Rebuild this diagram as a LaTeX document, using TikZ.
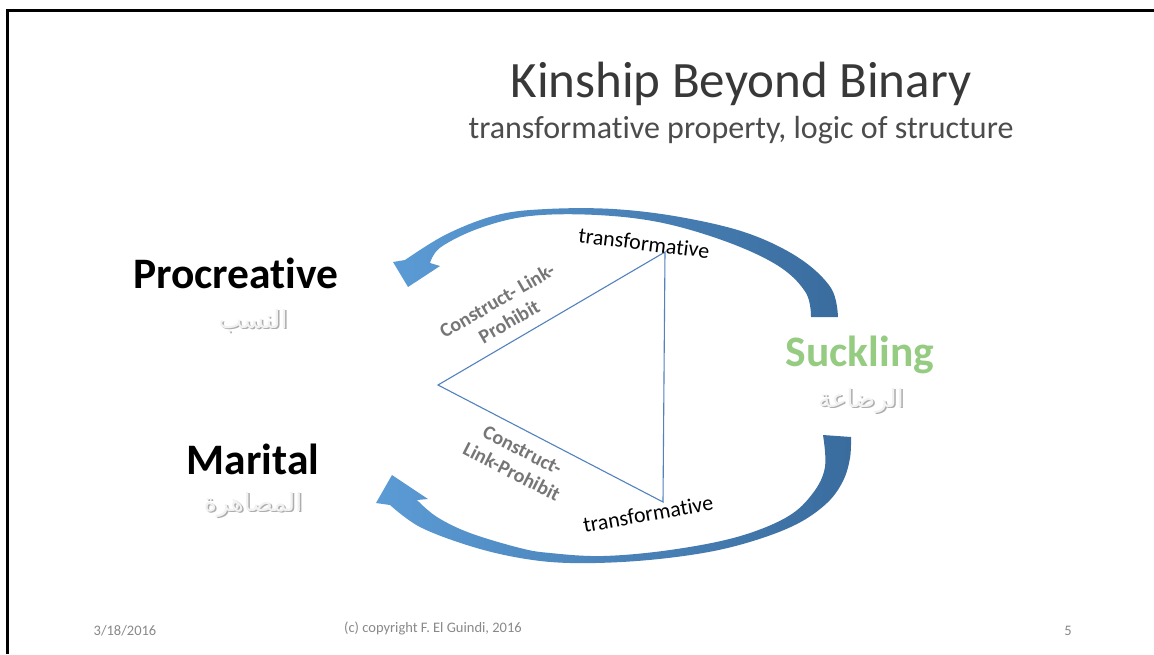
\documentclass[tikz,border=0pt]{standalone}
\usepackage{fontspec}
\setmainfont{Carlito}[Ligatures=NoCommon]
\newfontfamily\arabicfont[Script=Arabic]{DejaVu Sans}
\TeXXeTstate=1
\definecolor{arrowlight}{RGB}{91,155,213}
\definecolor{arrowdark}{RGB}{58,108,158}
\definecolor{triline}{RGB}{84,130,190}
\definecolor{suckgreen}{RGB}{150,203,130}
\definecolor{labgray}{RGB}{118,118,118}
\definecolor{footgray}{RGB}{137,137,137}
\begin{document}
\begin{tikzpicture}[x=1pt,y=-1pt,
  every node/.style={inner sep=0pt, outer sep=0pt},
  titletext/.style={font=\fontsize{51}{60}\selectfont, text=black!78, anchor=base},
  subtext/.style={font=\fontsize{32}{38}\selectfont, text=black!70, anchor=base},
  kintext/.style={font=\bfseries\fontsize{43.5}{50}\selectfont, anchor=base},
  arabtext/.style={font=\arabicfont\fontsize{25}{30}\selectfont, text=black!5},
  arabshadow/.style={font=\arabicfont\fontsize{25}{30}\selectfont, text=black!32},
  translabel/.style={font=\fontsize{22}{26}\selectfont, text=black},
  linklabel/.style={font=\bfseries\fontsize{20}{24}\selectfont, text=labgray, align=center},
  foottext/.style={font=\fontsize{14.5}{17}\selectfont, text=footgray},
  triedge/.style={draw=triline, line width=1.1pt},
  blockarrow/.style={left color=arrowlight, right color=arrowdark, draw=none}
]
\useasboundingbox (0,0) rectangle (1154,654);
\fill[white] (0,0) rectangle (1154,654);
% slide frame
\draw[line width=3pt] (6,10.5) -- (1154,10.5);
\draw[line width=2.6pt] (7.3,9) -- (7.3,654);

% titles
\node[titletext] (title) at (741,97) {Kinship Beyond Binary};
\node[subtext] (subtitle) at (741,138) {transformative property, logic of structure};

% kinship types
\node[kintext] (proc) at (236,288) {Procreative};
\node[arabshadow] (procarS) at (254.5,322.5) {\beginR النسب\endR};
\node[arabtext] (procar) at (253,321) {\beginR النسب\endR};

\node[kintext] (mar) at (253,474) {Marital};
\node[arabshadow] (mararS) at (254.5,506.5) {\beginR المصاهرة\endR};
\node[arabtext] (marar) at (253,505) {\beginR المصاهرة\endR};

\node[kintext, text=suckgreen] (suck) at (860,366) {Suckling};
\node[arabshadow] (suckarS) at (862.5,402.5) {\beginR الرضاعة\endR};
\node[arabtext] (suckar) at (861,401) {\beginR الرضاعة\endR};

% upper curved arrow
\path[blockarrow]
  plot[smooth, tension=0.6] coordinates {(838,317) (831,288) (799,258) (747,233) (680,217) (613,209) (547,209) (497,215) (447,234) (405,260)}
  -- (393,262) -- (408,287) -- (440,266) -- (430,263)
  -- plot[smooth, tension=0.6] coordinates {(430,263) (441,247) (480,228) (530,216) (597,215) (663,223) (730,243) (780,267) (806,293) (811,317)}
  -- cycle;

% lower curved arrow
\path[blockarrow]
  plot[smooth, tension=0.6] coordinates {(851,437) (850,458) (843,481) (827,503) (797,524) (753,541) (703,553) (637,561) (570,563) (520,558) (470,546) (420,527) (390,505)}
  -- (376,503) -- (392,475) -- (428,499) -- (417,500)
  -- plot[smooth, tension=0.6] coordinates {(417,500) (437,517) (470,533) (520,548) (550,553) (603,556) (670,550) (737,537) (787,517) (813,493) (825,467) (823,435)}
  -- cycle;

% triangle
\coordinate (T) at (665,252);
\coordinate (L) at (438,385);
\coordinate (B) at (663,502);
\draw[triedge, line join=miter] (T) -- (L) -- (B) -- cycle;

% triangle labels
\node[translabel, rotate=-7] (ttop) at (644,243) {transformative};
\node[translabel, rotate=10] (tbot) at (648,514) {transformative};
\node[linklabel, rotate=30] (cltop) at (503,311) {Construct- Link-\\Prohibit};
\node[linklabel, rotate=-27] (clbot) at (517,461) {Construct-\\Link-Prohibit};

% footer
\node[foottext] (date) at (125,631) {3/18/2016};
\node[foottext] (copy) at (433,628) {(c) copyright F. El Guindi, 2016};
\node[foottext] (page) at (1068,631) {5};
\end{tikzpicture}
\end{document}
